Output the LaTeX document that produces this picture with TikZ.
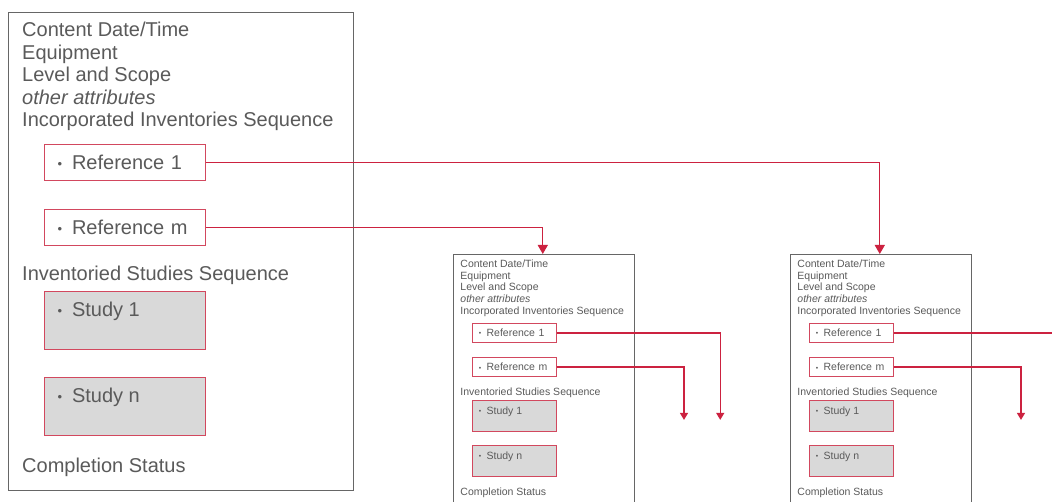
\documentclass[tikz,border=0pt]{standalone}
\usepackage{fontspec}
\setmainfont{Liberation Sans}
\usetikzlibrary{arrows.meta}
\definecolor{txtgray}{HTML}{5A5A5A}
\definecolor{boxgray}{HTML}{666666}
\definecolor{lnred}{HTML}{CC2240}
\definecolor{boxred}{HTML}{D2485E}
\definecolor{studyfill}{HTML}{D9D9D9}
\newcommand\smbul{\hspace{5pt}\raisebox{1.5pt}{\fontsize{13}{13}\selectfont\textbullet}\hspace{10pt}}
\tikzset{
  outerbox/.style={draw=boxgray, line width=1.3pt, minimum width=345pt, minimum height=478pt, inner sep=0pt},
  attr/.style={anchor=base west, inner sep=0pt, text=txtgray, font=\fontsize{20}{24}\selectfont},
  refbox/.style={draw=boxred, line width=1pt, fill=white, anchor=north west, minimum width=161pt, minimum height=36pt,
    text width=145pt, inner xsep=8pt, inner ysep=0pt, align=left, text=txtgray, font=\fontsize{20}{24}\selectfont},
  studybox/.style={draw=boxred, line width=1pt, fill=studyfill, anchor=north west, minimum width=161pt,
    inner xsep=8pt, inner ysep=11pt, text=txtgray, font=\fontsize{20}{24}\selectfont},
  redline/.style={draw=lnred, line width=1.3pt},
  bigtip/.style={-{Triangle[width=10pt,length=9pt]}},
  smalltip/.style={-{Triangle[width=8pt,length=7pt]}},
}
\newcommand\recbox[4]{%
\begin{scope}[shift={(#2,#3)}, scale=#4, transform shape]
  \node[outerbox, anchor=north west] (#1-box) at (0,0) {};
  \node[attr] (#1-a1) at (14,25) {Content Date/Time};
  \node[attr] (#1-a2) at (14,48) {Equipment};
  \node[attr] (#1-a3) at (14,70) {Level and Scope};
  \node[attr] (#1-a4) at (14,93) {\itshape other attributes};
  \node[attr] (#1-a5) at (14,115) {Incorporated Inventories Sequence};
  \node[refbox] (#1-r1) at (36,132) {\smbul Reference 1};
  \node[refbox] (#1-rm) at (36,197) {\smbul Reference m};
  \node[attr] (#1-a6) at (14,269) {Inventoried Studies Sequence};
  \node[studybox] (#1-s1) at (36,279) {\parbox[c][36pt][t]{145pt}{\smbul Study 1}};
  \node[studybox] (#1-sn) at (36,365) {\parbox[c][36pt][t]{145pt}{\smbul Study n}};
  \node[attr] (#1-a7) at (14,460) {Completion Status};
  \coordinate (#1-in) at (171,0);
  \coordinate (#1-o1) at (509,316);
  \coordinate (#1-om) at (440,316);
\end{scope}}
\begin{document}
\begin{tikzpicture}[x=1pt,y=-1pt]
\clip (0,0) rectangle (1052,502);
\fill[white] (0,0) rectangle (1052,502);
\recbox{b}{8}{12}{1}
\recbox{p}{453}{254}{0.525}
\recbox{q}{790}{254}{0.525}
\draw[redline, bigtip] (b-r1.east) -| (q-in);
\draw[redline, bigtip] (b-rm.east) -| (p-in);
\draw[redline, smalltip] (p-r1.east) -| (p-o1);
\draw[redline, smalltip] (p-rm.east) -| (p-om);
\draw[redline, smalltip] (q-r1.east) -| (q-o1);
\draw[redline, smalltip] (q-rm.east) -| (q-om);
\end{tikzpicture}
\end{document}
